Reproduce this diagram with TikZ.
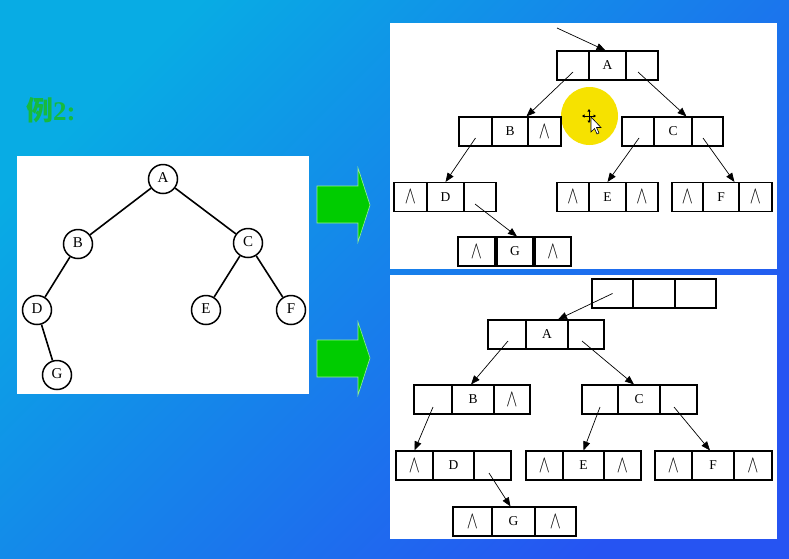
\documentclass[tikz,border=0pt]{standalone}
\usepackage{fontspec}
\setmainfont{Liberation Serif}
\newfontfamily\cjk{Noto Sans CJK SC}
\usetikzlibrary{arrows.meta,calc}
\definecolor{bgA}{RGB}{8,172,228}
\definecolor{bgB}{RGB}{38,84,242}
\definecolor{ttl}{RGB}{22,186,62}
\definecolor{arrg}{RGB}{0,204,0}
\definecolor{arre}{RGB}{150,240,150}
\definecolor{hl}{RGB}{246,226,0}
\tikzset{
 cell/.style={draw=black, line width=1.1pt, inner sep=0pt, minimum height=29pt, font=\fontsize{13.5}{13.5}\selectfont},
 circ/.style={draw, circle, line width=1.5pt, minimum size=29pt, inner sep=0pt, font=\fontsize{15}{15}\selectfont},
 tedge/.style={line width=1.6pt},
 ptr/.style={line width=0.7pt, -{Triangle[length=9pt,width=7pt]}},
 panel/.style={fill=white, draw=none},
 bigarrow/.style={fill=arrg, draw=arre, line width=0.6pt}
}
\newcommand\nil{\scalebox{1.15}[1.7]{$\wedge$}}
\newcommand\rec[9]{%
 \node[cell, minimum width={(#3-#2)*1pt}] (#1-l) at ({(#2+#3)/2},#6) {#7};
 \node[cell, minimum width={(#4-#3)*1pt}] (#1-m) at ({(#3+#4)/2},#6) {#8};
 \node[cell, minimum width={(#5-#4)*1pt}] (#1-r) at ({(#4+#5)/2},#6) {#9};}
\begin{document}
\begin{tikzpicture}[x=1pt,y=-1pt]
\useasboundingbox (0,0) rectangle (789,558);
\shade[top color=bgA, bottom color=bgB, shading angle=45] (0,0) rectangle (789,558);

% title
\node[text=ttl, anchor=west, font=\fontsize{27}{27}\selectfont\bfseries, inner sep=0pt] (title) at (26,110) {{\cjk 例}2:};

% left panel: tree
\fill[panel] (17,156) rectangle (309,394);
\node[circ] (A) at (163,179) {\raisebox{3pt}{A}};
\node[circ] (B) at (78,244) {\raisebox{3pt}{B}};
\node[circ] (C) at (248,243) {\raisebox{3pt}{C}};
\node[circ] (D) at (37,310) {\raisebox{3pt}{D}};
\node[circ] (E) at (206,310) {\raisebox{3pt}{E}};
\node[circ] (F) at (291,310) {\raisebox{3pt}{F}};
\node[circ] (G) at (57,375) {\raisebox{3pt}{G}};
\draw[tedge] (A) -- (B);
\draw[tedge] (A) -- (C);
\draw[tedge] (B) -- (D);
\draw[tedge] (C) -- (E);
\draw[tedge] (C) -- (F);
\draw[tedge] (D) -- (G);

% green arrows
\filldraw[bigarrow] (317,186) -- (358,186) -- (358,168) -- (370,205) -- (358,242) -- (358,223) -- (317,223) -- cycle;
\filldraw[bigarrow] (317,340) -- (358,340) -- (358,322) -- (370,358) -- (358,395) -- (358,377) -- (317,377) -- cycle;

% top right panel
\fill[panel] (390,23) rectangle (777,269);
\fill[hl] (589.5,116) ellipse [x radius=28.5, y radius=29];
\rec{tA}{557}{589}{626}{658}{65.5}{}{A}{}
\rec{tB}{459}{492}{528}{561}{131.5}{}{B}{\nil}
\rec{tC}{622}{654}{692}{723}{131.5}{}{C}{}
\rec{tD}{394}{427}{464}{496}{197}{\nil}{D}{}
\rec{tE}{557}{589}{626}{658}{197}{\nil}{E}{\nil}
\rec{tF}{672}{703}{739}{772}{197}{\nil}{F}{\nil}
\node[cell, minimum width=37pt] (tG-l) at (476.5,251.5) {\nil};
\node[cell, minimum width=36pt] (tG-m) at (515,251.5) {G};
\node[cell, minimum width=36pt] (tG-r) at (553,251.5) {\nil};
\coordinate (troot) at (557,28);
\draw[ptr] (troot) -- ($(tA-m.north)+(-2,0)$);
\draw[ptr] ($(tA-l.center)+(0,6.5)$) -- ($(tB-r.north west)+(-1,0)$);
\draw[ptr] ($(tA-r.center)+(-4,6.5)$) -- ($(tC-r.north west)+(-5,0)$);
\draw[ptr] ($(tB-l.center)+(0,6.5)$) -- (tD-m.north);
\draw[ptr] ($(tC-l.center)+(1,6.5)$) -- (tE-m.north);
\draw[ptr] ($(tC-r.center)+(-4.5,6.5)$) -- ($(tF-r.north west)+(-4,0)$);
\draw[ptr] ($(tD-r.center)+(-5,7)$) -- ($(tG-m.north)+(2,0)$);
% cursor
\draw[line width=0.9pt, {Triangle[length=2.5pt,width=3pt]}-{Triangle[length=2.5pt,width=3pt]}] (582,116) -- (596,116);
\draw[line width=0.9pt, {Triangle[length=2.5pt,width=3pt]}-{Triangle[length=2.5pt,width=3pt]}] (589,109) -- (589,123);
\filldraw[fill=white, draw=black, line width=0.6pt] (591,117) -- (591,132) -- (594.5,128.5) -- (597,134) -- (599,133) -- (596.5,127.5) -- (601,127.5) -- cycle;

% bottom right panel
\fill[panel] (390,275) rectangle (777,539);
\rec{bH}{592}{633}{675}{716}{293.5}{}{}{}
\rec{bA}{488}{526}{568}{604}{334.5}{}{A}{}
\rec{bB}{414}{452}{494}{530}{399.5}{}{B}{\nil}
\rec{bC}{582}{618}{660}{697}{399.5}{}{C}{}
\rec{bD}{396}{433}{474}{511}{465.5}{\nil}{D}{}
\rec{bE}{526}{563}{604}{641}{465.5}{\nil}{E}{\nil}
\rec{bF}{655}{692}{734}{772}{465.5}{\nil}{F}{\nil}
\rec{bG}{453}{492}{535}{576}{521.5}{\nil}{G}{\nil}
\draw[ptr] (bH-l.center) -- ($(bA-m.north)+(11,0)$);
\draw[ptr] ($(bA-l.center)+(1,6.5)$) -- ($(bB-m.north)+(-2,0)$);
\draw[ptr] ($(bA-r.center)+(-4,6.5)$) -- ($(bC-m.north)+(-5,0)$);
\draw[ptr] ($(bB-l.center)+(0,7.5)$) -- (bD-l.north);
\draw[ptr] ($(bC-l.center)+(0,7.5)$) -- (bE-m.north);
\draw[ptr] ($(bC-r.center)+(-4.5,7.5)$) -- ($(bF-m.north)+(-3,0)$);
\draw[ptr] ($(bD-r.center)+(-3.5,7.5)$) -- ($(bG-m.north)+(-3,0)$);
\end{tikzpicture}
\end{document}
